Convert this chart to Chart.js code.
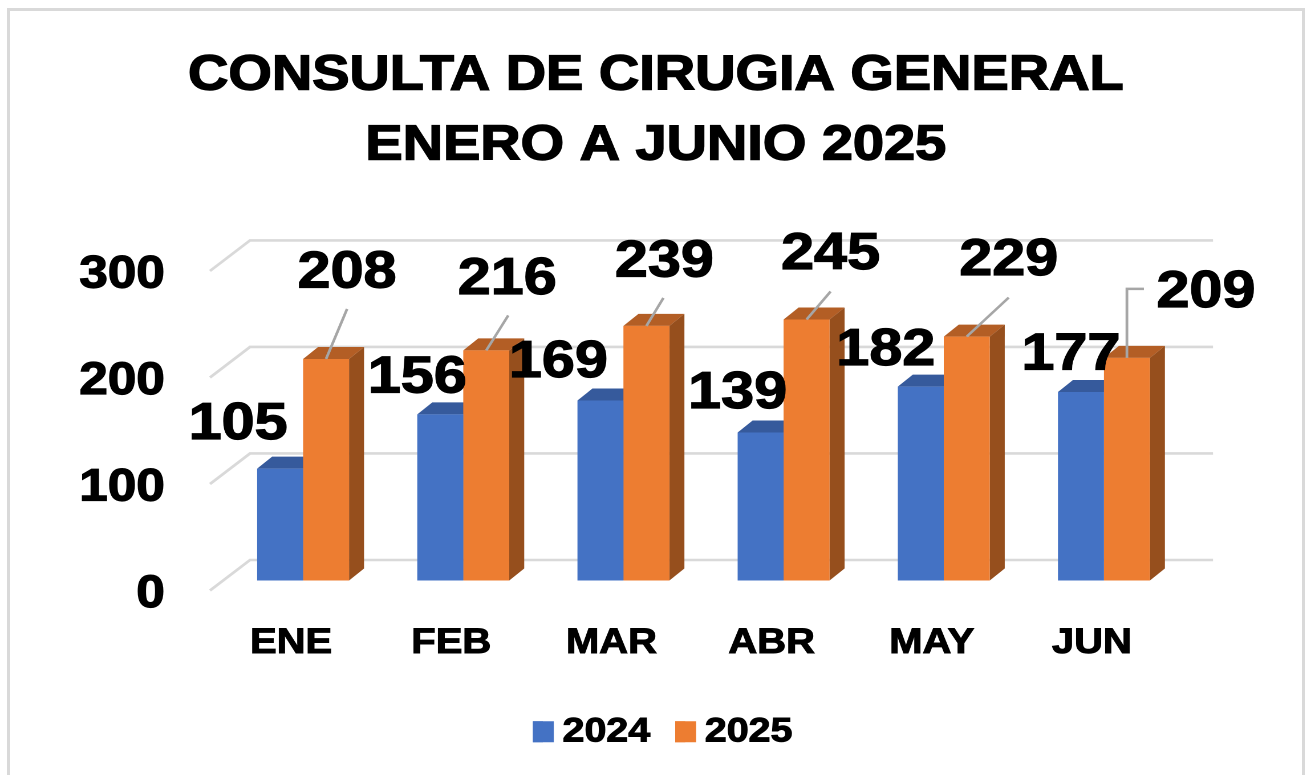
<!DOCTYPE html>
<html>
<head>
<meta charset="utf-8">
<script src="https://cdn.jsdelivr.net/npm/chart.js@4"></script>
<style>
  html, body { margin: 0; background: #fff; overflow: hidden; }
  #frame { position: absolute; left: 7px; top: 8px; width: 1292px; height: 780px; border: 3px solid #d9d9d9; }
  #wrap { position: absolute; left: 0; top: 0; width: 1146px; height: 775px; transform-origin: 0 0; transform: scaleX(1.1405); }
</style>
</head>
<body>
<div id="frame"></div>
<div id="wrap"><canvas id="chart" width="1146" height="775"></canvas></div>
<script>
const meses = ['ENE', 'FEB', 'MAR', 'ABR', 'MAY', 'JUN'];
const valores2024 = [105, 156, 169, 139, 182, 177];
const valores2025 = [208, 216, 239, 245, 229, 209];
const ticksY = [0, 100, 200, 300];

// the reference is a horizontally stretched image, so the whole canvas is stretched by the same amount
const K = 1.1405;
const FONT = '"Liberation Sans", Arial, sans-serif';

// screen px offsets of each value label from the top centre of its bar
const nudge2024 = [[-42, -46], [-23, -38], [-42, -40], [-23, -41], [-35, -38], [-10, -39]];
const nudge2025 = [[21, -88], [21, -73], [18, -66], [24, -67], [42, -78], [79, -67]];
// leader line end, from the top centre of the 2025 bars
const leader2025 = [[21, -50], [22, -35], [17, -28], [24, -28], [42, -39], [0, -69]];

const colores = {
  blue: { front: '#4472C4', top: '#365A9C', side: '#2F5597' },
  orange: { front: '#ED7D31', top: '#B35E25', side: '#964F1D' }
};

const depth3d = {
  id: 'depth3d',
  afterLayout(chart) {
    // nudge the legend alone to the right
    const legend = chart.legend;
    legend.left += 6;
    legend.right += 6;
    legend.legendHitBoxes.forEach((box) => { box.left += 6; });
  },
  beforeDatasetsDraw(chart) {
    const { ctx, scales: { y }, chartArea } = chart;
    // back wall grid lines plus their slanted floor part
    ctx.save();
    ctx.strokeStyle = '#d9d9d9';
    ctx.lineWidth = 2.6;
    ticksY.forEach((t) => {
      const py = y.getPixelForValue(t);
      ctx.beginPath();
      ctx.moveTo(chartArea.left - 13 / K, py + 10);
      ctx.lineTo(chartArea.left + 27 / K, py - 20.5);
      ctx.lineTo(chartArea.right + 29 / K, py - 20.5);
      ctx.stroke();
    });
    // top and side face of every bar
    const dx = 15 / K;
    const dy = 12;
    [colores.blue, colores.orange].forEach((c, i) => {
      chart.getDatasetMeta(i).data.forEach((bar) => {
        const half = bar.width / 2;
        const r = bar.x + half;
        const l = bar.x - half;
        ctx.fillStyle = c.top;
        ctx.beginPath();
        ctx.moveTo(l, bar.y);
        ctx.lineTo(l + dx, bar.y - dy);
        ctx.lineTo(r + dx, bar.y - dy);
        ctx.lineTo(r, bar.y);
        ctx.closePath();
        ctx.fill();
        ctx.fillStyle = c.side;
        ctx.beginPath();
        ctx.moveTo(r, bar.y);
        ctx.lineTo(r + dx, bar.y - dy);
        ctx.lineTo(r + dx, bar.base - dy);
        ctx.lineTo(r, bar.base);
        ctx.closePath();
        ctx.fill();
      });
    });
    ctx.restore();
  },
  afterDraw(chart) {
    const { ctx } = chart;
    ctx.save();
    // leader lines of the 2025 labels
    ctx.strokeStyle = '#a6a6a6';
    ctx.lineWidth = 2.4;
    chart.getDatasetMeta(1).data.forEach((bar, i) => {
      const [lx, ly] = leader2025[i];
      ctx.beginPath();
      ctx.moveTo(bar.x, bar.y);
      ctx.lineTo(bar.x + lx / K, bar.y + ly);
      if (lx === 0) ctx.lineTo(bar.x + 17 / K, bar.y + ly);
      ctx.stroke();
    });
    // value labels
    ctx.font = 'bold 52px ' + FONT;
    ctx.fillStyle = '#000';
    ctx.strokeStyle = '#000';
    ctx.lineWidth = 1.2;
    ctx.textAlign = 'center';
    ctx.textBaseline = 'middle';
    [[valores2024, nudge2024], [valores2025, nudge2025]].forEach(([vals, nudge], ds) => {
      chart.getDatasetMeta(ds).data.forEach((bar, i) => {
        const tx = bar.x + nudge[i][0] / K;
        const ty = bar.y + nudge[i][1] + 2;
        ctx.fillText(String(vals[i]), tx, ty);
        ctx.strokeText(String(vals[i]), tx, ty);
      });
    });
    // title and legend text have no stroke option, the reference lettering is heavier
    const tb = chart.titleBlock;
    const topts = chart.options.plugins.title;
    ctx.font = 'bold ' + topts.font.size + 'px ' + FONT;
    ctx.lineWidth = 1.4;
    topts.text.forEach((line, i) => {
      const lh = topts.font.size * topts.font.lineHeight;
      ctx.strokeText(line, tb.left + tb.width / 2, tb.top + topts.padding.top + lh * (i + 0.5));
    });
    // legend swatches are wider than the box offset chart.js leaves before the text
    const lopts = chart.options.plugins.legend.labels;
    ctx.font = 'bold ' + lopts.font.size + 'px ' + FONT;
    ctx.textAlign = 'left';
    ctx.lineWidth = 1;
    chart.legend.legendHitBoxes.forEach((box, i) => {
      ctx.fillStyle = chart.data.datasets[i].backgroundColor;
      ctx.fillRect(box.left, box.top + (box.height - 21) / 2, 18.4, 21);
      ctx.strokeText(chart.data.datasets[i].label, box.left + lopts.boxWidth + lopts.font.size / 2, box.top + box.height / 2);
    });
    ctx.restore();
  }
};

new Chart(document.getElementById('chart'), {
  type: 'bar',
  data: {
    labels: meses,
    datasets: [
      { label: '2024', data: valores2024, backgroundColor: colores.blue.front, borderWidth: 0 },
      { label: '2025', data: valores2025, backgroundColor: colores.orange.front, borderWidth: 0 }
    ]
  },
  options: {
    responsive: false,
    animation: false,
    devicePixelRatio: 2,
    layout: { padding: { left: 4, right: 0, top: 0, bottom: 16 } },
    datasets: { bar: { categoryPercentage: 0.574, barPercentage: 1 } },
    plugins: {
      tooltip: { enabled: false },
      title: {
        display: true,
        text: ['CONSULTA DE CIRUGIA GENERAL', 'ENERO A JUNIO 2025'],
        color: '#000',
        font: { family: FONT, size: 49, weight: 'bold', lineHeight: 1.428 },
        padding: { top: 41, bottom: 80 }
      },
      legend: {
        position: 'bottom',
        labels: {
          color: '#000',
          font: { family: FONT, size: 34.5, weight: 'bold' },
          boxWidth: 8.8,
          boxHeight: 21,
          padding: 22
        }
      }
    },
    scales: {
      x: {
        offset: true,
        grid: { display: false, drawTicks: false },
        border: { display: false },
        ticks: {
          color: '#000',
          font: { family: FONT, size: 35, weight: 'bold' },
          padding: 42,
          labelOffset: -10.5,
          maxRotation: 0,
          autoSkip: false,
          textStrokeColor: '#000',
          textStrokeWidth: 1
        },
        afterFit(scale) { scale.height = 112; }
      },
      y: {
        min: 0,
        max: 300,
        afterBuildTicks(scale) { scale.ticks = ticksY.map((value) => ({ value })); },
        grid: { display: false, drawTicks: false },
        border: { display: false },
        ticks: {
          color: '#000',
          font: { family: FONT, size: 45, weight: 'bold' },
          padding: 51,
          labelOffset: 14,
          textStrokeColor: '#000',
          textStrokeWidth: 1.2
        },
        afterFit(scale) { scale.width = 223 / K - 4; }
      },
      // empty axis that only reserves the space right of the plot, so title and legend stay centred
      margen: {
        position: 'right',
        grid: { display: false, drawTicks: false },
        border: { display: false },
        ticks: { display: false },
        afterFit(scale) { scale.width = 123 / K; }
      }
    }
  },
  plugins: [depth3d]
});
</script>
</body>
</html>
